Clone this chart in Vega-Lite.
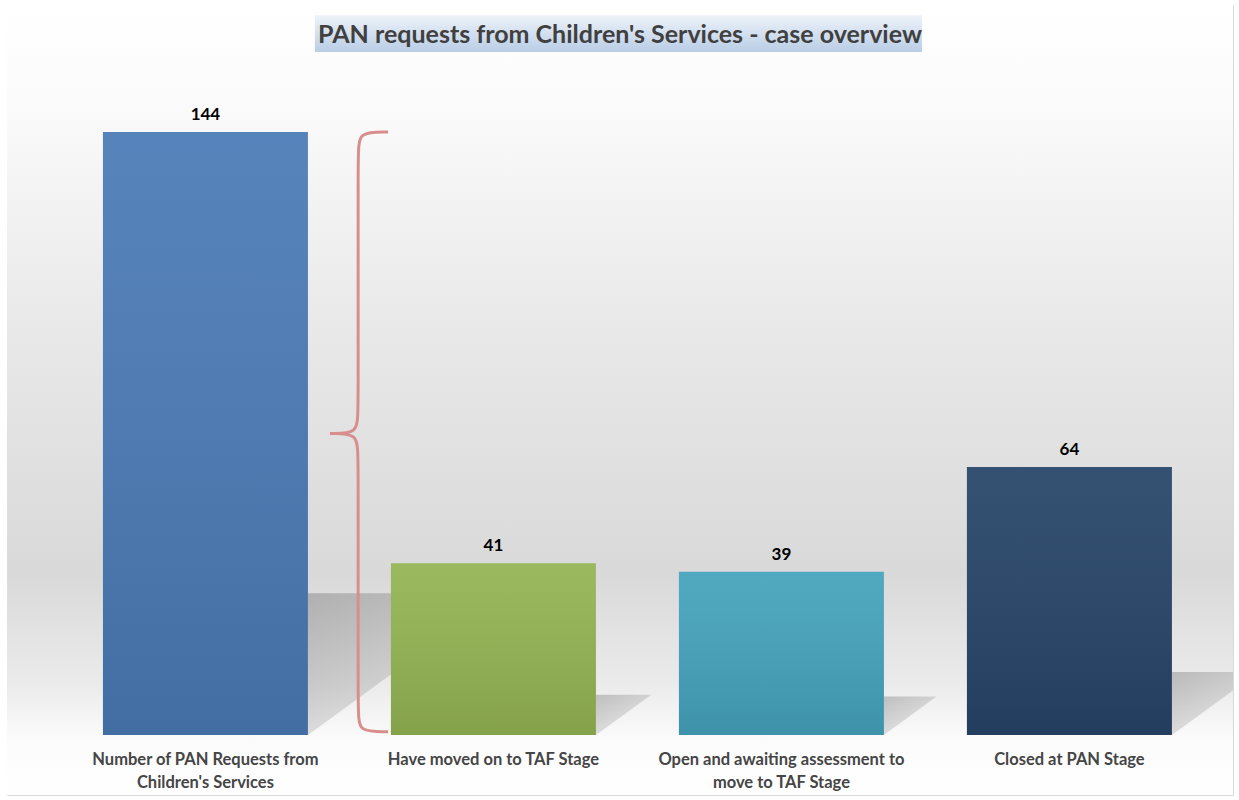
{
  "$schema": "https://vega.github.io/schema/vega-lite/v6.json",
  "width": 1226,
  "height": 790,
  "autosize": {"type": "none"},
  "padding": {"left": 7, "top": 5, "right": 6, "bottom": 5},
  "background": "white",
  "title": {
    "text": "PAN requests from Children's Services - case overview",
    "font": "Lato",
    "fontSize": 25,
    "fontWeight": "bold",
    "color": "#404040",
    "anchor": "middle",
    "frame": "group",
    "offset": -43,
    "zindex": 1
  },
  "config": {"view": {"stroke": "#d9d9d9", "strokeWidth": 1}, "font": "Lato"},
  "data": {
    "values": [
      {"category": "Number of PAN Requests from Children's Services", "value": 144},
      {"category": "Have moved on to TAF Stage", "value": 41},
      {"category": "Open and awaiting assessment to move to TAF Stage", "value": 39},
      {"category": "Closed at PAN Stage", "value": 64}
    ]
  },
  "resolve": {"scale": {"x": "independent"}},
  "layer": [
    {
      "data": {"values": [{}]},
      "mark": {
        "type": "rect",
        "fill": {
          "gradient": "linear", "x1": 0, "y1": 0, "x2": 0, "y2": 1,
          "stops": [
            {"offset": 0, "color": "#ffffff"},
            {"offset": 0.12, "color": "#fbfbfb"},
            {"offset": 0.4, "color": "#e9e9e9"},
            {"offset": 0.72, "color": "#d9d9d9"},
            {"offset": 0.86, "color": "#ebebeb"},
            {"offset": 0.93, "color": "#fbfbfb"},
            {"offset": 1, "color": "#ffffff"}
          ]
        }
      },
      "encoding": {}
    },
    {
      "data": {"values": [{}]},
      "mark": {
        "type": "rect",
        "fill": {
          "gradient": "linear", "x1": 0, "y1": 0, "x2": 0, "y2": 1,
          "stops": [
            {"offset": 0, "color": "#eef3fa"},
            {"offset": 1, "color": "#b9cde5"}
          ]
        }
      },
      "encoding": {
        "x": {"datum": 0.38, "type": "quantitative", "scale": {"domain": [-0.6892, 3.5677], "nice": false, "zero": false}, "axis": null},
        "x2": {"datum": 2.488},
        "y": {"datum": 171.9, "type": "quantitative", "scale": {"domain": [-14.33, 174.33], "nice": false, "zero": false}, "axis": null},
        "y2": {"datum": 163.1}
      }
    },
    {
      "transform": [
        {"window": [{"op": "row_number", "as": "rank"}]},
        {"calculate": "0.235 * datum.value", "as": "sh"},
        {"calculate": "datum.rank - 1 + 0.356", "as": "sx0"},
        {"calculate": "datum.sx0 + 0.00468 * datum.value", "as": "sx1"},
        {"fold": ["sx0", "sx1"], "as": ["corner", "sx"]},
        {"calculate": "datum.corner == 'sx0' ? 0 : datum.sh", "as": "sb"}
      ],
      "mark": {
        "type": "area",
        "clip": true,
        "fill": {
          "gradient": "linear", "x1": 0, "y1": 0, "x2": 1, "y2": 1,
          "stops": [
            {"offset": 0, "color": "rgba(0,0,0,0.2)"},
            {"offset": 1, "color": "rgba(0,0,0,0.04)"}
          ]
        }
      },
      "encoding": {
        "x": {"field": "sx", "type": "quantitative", "scale": {"domain": [-0.6892, 3.5677], "nice": false, "zero": false}, "axis": null},
        "y": {"field": "sh", "type": "quantitative", "scale": {"domain": [-14.33, 174.33], "nice": false, "zero": false}, "axis": null},
        "y2": {"field": "sb"},
        "detail": {"field": "category"}
      }
    },
    {
      "mark": {"type": "bar"},
      "encoding": {
        "x": {
          "field": "category", "type": "nominal", "sort": null,
          "scale": {"type": "band", "paddingInner": 0.2882, "paddingOuter": 0.2726, "align": 0.611},
          "axis": {
            "title": null, "domain": false, "ticks": false, "labelAngle": 0,
            "labelFont": "Lato", "labelFontSize": 16.5, "labelFontWeight": "bold",
            "labelColor": "#454545", "labelPadding": 0, "labelBaseline": "top",
            "labelLineHeight": 23, "labelLimit": 400, "offset": -44, "zindex": 1,
            "labelExpr": "datum.label == \"Number of PAN Requests from Children's Services\" ? ['Number of PAN Requests from', \"Children's Services\"] : datum.label == 'Open and awaiting assessment to move to TAF Stage' ? ['Open and awaiting assessment to', 'move to TAF Stage'] : datum.label"
          }
        },
        "y": {"field": "value", "type": "quantitative", "scale": {"domain": [-14.33, 174.33], "nice": false, "zero": false}, "axis": null},
        "color": {
          "field": "category", "type": "nominal", "sort": null,
          "scale": {"range": ["#4a7ab6", "#93b452", "#44a3bc", "#264468"]},
          "legend": null
        }
      }
    },
    {
      "mark": {
        "type": "bar",
        "fill": {
          "gradient": "linear", "x1": 0, "y1": 0, "x2": 0, "y2": 1,
          "stops": [
            {"offset": 0, "color": "rgba(255,255,255,0.07)"},
            {"offset": 1, "color": "rgba(0,0,0,0.1)"}
          ]
        }
      },
      "encoding": {
        "x": {"field": "category", "type": "nominal", "sort": null, "scale": {"type": "band", "paddingInner": 0.2882, "paddingOuter": 0.2726, "align": 0.611}, "axis": null},
        "y": {"field": "value", "type": "quantitative", "scale": {"domain": [-14.33, 174.33], "nice": false, "zero": false}, "axis": null}
      }
    },
    {
      "data": {
        "values": [
          {"bx": 0.634, "by": 144, "ord": 1},
          {"bx": 0.53, "by": 144, "ord": 2},
          {"bx": 0.53, "by": 139.5, "ord": 3},
          {"bx": 0.53, "by": 77, "ord": 4},
          {"bx": 0.53, "by": 72, "ord": 5},
          {"bx": 0.432, "by": 72, "ord": 6},
          {"bx": 0.432, "by": 72, "ord": 7},
          {"bx": 0.432, "by": 72, "ord": 8},
          {"bx": 0.53, "by": 72, "ord": 9},
          {"bx": 0.53, "by": 67, "ord": 10},
          {"bx": 0.53, "by": 5, "ord": 11},
          {"bx": 0.53, "by": 0.8, "ord": 12},
          {"bx": 0.634, "by": 0.8, "ord": 13}
        ]
      },
      "mark": {"type": "line", "color": "#d98e8e", "strokeWidth": 3, "interpolate": "basis"},
      "encoding": {
        "x": {"field": "bx", "type": "quantitative", "scale": {"domain": [-0.6892, 3.5677], "nice": false, "zero": false}, "axis": null},
        "y": {"field": "by", "type": "quantitative", "scale": {"domain": [-14.33, 174.33], "nice": false, "zero": false}, "axis": null},
        "order": {"field": "ord", "type": "quantitative"}
      }
    },
    {
      "mark": {"type": "text", "dy": -12, "fontSize": 17, "fontWeight": "bold", "color": "#000000", "font": "Lato", "baseline": "alphabetic", "align": "center"},
      "encoding": {
        "x": {"field": "category", "type": "nominal", "sort": null, "bandPosition": 0.5, "scale": {"type": "band", "paddingInner": 0.2882, "paddingOuter": 0.2726, "align": 0.611}, "axis": null},
        "y": {"field": "value", "type": "quantitative", "scale": {"domain": [-14.33, 174.33], "nice": false, "zero": false}, "axis": null},
        "text": {"field": "value", "type": "quantitative"}
      }
    }
  ]
}
